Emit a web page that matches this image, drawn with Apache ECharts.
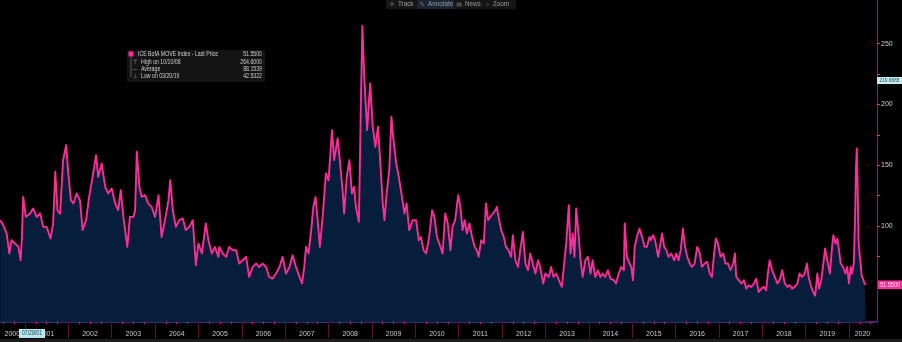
<!DOCTYPE html>
<html>
<head>
<meta charset="utf-8">
<script src="https://cdn.jsdelivr.net/npm/echarts@6/dist/echarts.min.js"></script>
<style>
html,body{margin:0;padding:0;background:#000;}
#c{width:902px;height:342px;}
</style>
</head>
<body>
<div id="c"></div>
<script>
// ---- DATA (decimal-year dates and ICE BofA MOVE Index values) ----
const years = [
 2000.43,2000.50,2000.58,2000.64,2000.69,2000.77,2000.85,2000.90,2000.93,2000.96,
 2001.02,2001.12,2001.19,2001.27,2001.35,2001.42,2001.50,2001.59,2001.65,2001.70,2001.75,2001.81,2001.88,2001.95,
 2002.00,2002.06,2002.12,2002.19,2002.27,2002.33,2002.41,2002.48,2002.56,2002.64,2002.69,2002.77,2002.85,2002.92,
 2003.00,2003.08,2003.15,2003.21,2003.27,2003.36,2003.42,2003.50,2003.54,2003.58,2003.64,2003.69,2003.77,2003.84,2003.92,
 2004.00,2004.08,2004.15,2004.23,2004.31,2004.35,2004.41,2004.48,2004.56,2004.64,2004.71,2004.79,2004.87,2004.94,
 2005.00,2005.08,2005.17,2005.23,2005.31,2005.38,2005.46,
 2005.48,2005.56,2005.64,2005.71,2005.79,2005.87,2005.94,
 2006.02,2006.10,2006.17,2006.25,2006.33,2006.40,2006.48,2006.56,2006.63,2006.71,2006.79,2006.87,2006.94,
 2007.02,2007.10,2007.17,2007.25,2007.33,2007.39,2007.44,2007.48,2007.54,2007.60,2007.65,2007.70,2007.75,2007.80,2007.87,2007.94,
 2008.00,2008.08,2008.13,2008.21,2008.26,2008.33,2008.36,2008.42,2008.48,2008.54,2008.59,2008.63,2008.70,2008.73,2008.75,2008.78,2008.82,2008.89,2008.93,2008.96,
 2009.02,2009.08,2009.14,2009.19,2009.25,2009.29,2009.34,2009.40,2009.45,2009.49,2009.56,2009.62,2009.68,2009.75,2009.80,2009.86,2009.94,
 2010.02,2010.08,2010.13,2010.19,2010.25,2010.32,2010.39,2010.44,
 2010.50,2010.58,2010.63,2010.69,2010.75,2010.81,2010.86,2010.92,2010.99,
 2011.04,2011.09,2011.14,2011.19,2011.25,2011.31,2011.37,2011.42,2011.46,2011.52,2011.58,2011.63,2011.68,2011.73,2011.79,2011.85,2011.88,2011.92,2011.98,
 2012.04,2012.09,2012.15,2012.21,2012.25,2012.31,2012.37,2012.42,2012.48,2012.54,2012.60,2012.65,2012.71,2012.77,2012.83,2012.88,2012.95,
 2013.00,2013.08,2013.13,2013.19,2013.25,2013.31,2013.38,2013.44,2013.48,2013.54,2013.58,2013.63,2013.67,2013.71,2013.77,2013.81,2013.86,2013.92,2013.98,
 2014.04,2014.09,2014.15,2014.21,2014.27,2014.32,2014.38,2014.44,2014.50,2014.58,2014.63,2014.69,2014.75,2014.81,2014.83,2014.88,2014.94,2014.98,
 2015.02,2015.06,2015.11,2015.17,2015.23,2015.29,2015.34,
 2015.40,2015.43,2015.48,2015.53,2015.60,2015.64,2015.69,2015.74,2015.79,2015.84,2015.90,2015.97,
 2016.02,2016.07,2016.12,2016.17,2016.21,2016.27,2016.33,2016.38,2016.44,2016.50,2016.56,2016.61,2016.67,2016.73,2016.79,2016.84,2016.89,2016.93,2016.98,
 2017.04,2017.10,2017.15,2017.21,2017.27,2017.33,2017.37,2017.40,2017.46,2017.52,2017.58,2017.63,2017.69,2017.75,2017.81,2017.86,2017.92,2017.98,
 2018.04,2018.09,2018.13,2018.17,2018.23,2018.29,2018.35,2018.40,2018.46,2018.52,2018.58,2018.63,2018.69,2018.75,2018.81,2018.86,2018.92,2018.98,
 2019.03,2019.07,2019.13,2019.19,2019.22,2019.27,2019.31,2019.36,2019.40,2019.45,2019.50,2019.56,2019.61,2019.64,2019.69,2019.73,2019.77,2019.81,2019.86,2019.92,2019.96,
 2020.00,2020.04,2020.07,2020.11,2020.14,2020.16,2020.18,2020.20,2020.22,2020.25,2020.27,2020.29,2020.32,2020.36,2020.39
];
const values = [
 104.7,100.6,93.7,77.3,88.2,85.5,82.7,71.7,90.9,123.9,
 107.4,110.2,114.3,107.4,110.2,99.2,99.2,89.6,102,144.5,112.9,110,154,166.5,
 143.2,121.2,118.5,126.7,121,96.5,104.7,123.9,140.4,158.2,140.4,151.4,132.1,126.7,
 130.8,118.5,112.9,129.4,107.4,82.7,107.4,107.4,112.9,161,132.1,123.9,125.3,118.5,115.7,
 107.4,125.3,90.9,104.7,121.2,137.6,112.9,99.2,104.7,106.1,96.5,99.2,104.7,67.6,
 85.5,77.3,102,88.2,77.3,82.7,74.5,
 82.7,77.3,74.5,82.7,80,80,69,
 71.7,74.5,58,66.2,69,66.2,69,66.2,58,56.6,60.8,66.2,74.5,
 60.8,66.2,75.9,66.2,58,52.6,66.2,82.7,77.3,96.5,115.7,123.9,104.7,82.7,110.2,143.2,
 137.6,178.8,154.1,172,154.1,126.7,110.2,140.4,154.1,126.7,132.1,115.7,103.3,165.1,209,264.6,225.5,178.8,200.8,217.3,
 181.6,165.1,181.6,154.1,118.5,104.7,126.7,145.9,189.8,173.3,151.4,140.4,126.7,110.2,118.5,96.5,104.7,
 104.7,88.2,90.9,80,77.3,90.9,112.9,107.4,
 90.9,82.7,77.3,110.2,102,80,99.2,104.7,125.3,
 115.7,96.5,104.7,93.7,102,90.9,82.7,80,74.5,88.2,85.5,118.5,104.7,107.4,110.2,112.9,115.7,107.4,96.5,
 90.9,82.7,80,74.5,92.3,71.7,66.2,80,95.1,69,63.5,77.3,69,60.8,71.7,66.2,52.6,
 60.8,58,66.2,58,60.8,55.3,49.8,71.7,85.5,117.1,77.3,93.7,74.5,114.3,90.9,71.7,58,71.7,74.5,
 60.8,71.7,58,63.5,58,60.8,58,63.5,56.6,55.3,52.6,60.8,66.2,63.5,102,74.5,69,66.2,
 55.3,82.7,90.9,97.8,90.9,82.7,82.7,
 90.9,88.2,92.3,88.2,74.5,82.7,93.7,82.7,80,74.5,77.3,71.7,
 77.3,71.7,80,97.8,85.5,74.5,69,66.2,69,82.7,77.3,66.2,69,70.4,60.8,58,77.3,89.6,85.5,
 74.5,77.3,69,69,63.5,69,77.3,58,55.3,52.6,55.3,48.4,51.2,49.8,52.6,56.6,45.6,48.4,
 49.8,47,60.8,71.7,63.5,58,52.6,55.3,63.5,52.6,49.8,51.2,48.4,49.8,52.6,60.8,58,60.8,
 69,58,49.8,44.3,42.5,60.8,48.4,55.3,66.2,81.4,71.7,60.8,82.7,92.3,85.5,89.6,80,69,66.2,60.8,66.2,
 52.6,66.2,60.8,69,104.7,145.9,163.8,132.1,88.2,74.5,69,59.5,58,52.6,51.55
];
// tick labels
const yLabelValues = [100, 150, 200, 250];
const yTickValues = [75, 100, 125, 150, 175, 200, 225, 250];
const yearTicks = [2001,2002,2003,2004,2005,2006,2007,2008,2009,2010,2011,2012,2013,2014,2015,2016,2017,2018,2019,2020];
const yearLabelPos = [2000.71,2001.5,2002.5,2003.5,2004.5,2005.5,2006.5,2007.5,2008.5,2009.5,2010.5,2011.5,2012.5,2013.5,2014.5,2015.5,2016.5,2017.5,2018.5,2019.5,2020.31];
// legend / stats texts
const seriesName = 'ICE BofA MOVE Index - Last Price';
const lastPrice = '51.5500';
const statLabels = ['High on 10/10/08', 'Average', 'Low on 03/20/19'];
const statValues = ['264.6000', '88.1539', '42.5322'];
const refLevel = 219.6665;
const refLevelText = '219.6665';
const cursorDate = '07/28/01';
const toolbarItems = ['Track', 'Annotate', 'News', 'Zoom'];

// ---- CHART ----
const PINK = '#ff2d96';
const FONT = "'Liberation Sans',sans-serif";
const xMin = 2000.425, xMax = 2020.646;
const quarterTicks = [];
for (let y = 2000; y <= 2020; y++) { [0.25, 0.5, 0.75].forEach(q => quarterTicks.push(y + q)); }

const chart = echarts.init(document.getElementById('c'));
const data = years.map((y, i) => [y, values[i]]);

chart.setOption({
  backgroundColor: '#000',
  animation: false,
  grid: { left: 0, right: 25, top: 0, bottom: 20 },
  xAxis: [
    {
      type: 'value', min: xMin, max: xMax, position: 'bottom',
      axisLine: { show: true, onZero: false, lineStyle: { color: '#3b2b72', width: 2 } },
      axisTick: { show: true, customValues: quarterTicks, length: 2, lineStyle: { color: '#d0207a' } },
      axisLabel: { show: false }, splitLine: { show: false }
    },
    {
      type: 'value', min: xMin, max: xMax, position: 'bottom',
      axisLine: { show: false, onZero: false },
      axisTick: { show: true, customValues: yearTicks, length: 16, lineStyle: { color: '#5e0f36', width: 1 } },
      axisLabel: {
        customValues: yearLabelPos, color: '#c8c8c8', fontSize: 7, fontFamily: FONT, margin: 9,
        formatter: v => String(Math.floor(v + 1e-6))
      },
      splitLine: { show: false }
    }
  ],
  yAxis: {
    type: 'value', position: 'right', min: 20.9, max: 285.9,
    axisLine: { show: true, onZero: false, lineStyle: { color: '#8c1a5a', width: 1 } },
    axisTick: { show: true, customValues: yTickValues, length: 3, lineStyle: { color: PINK } },
    axisLabel: { customValues: yLabelValues, color: '#d0d0d0', fontSize: 7, fontFamily: FONT, margin: 4 },
    splitLine: { show: false }
  },
  series: [{
    type: 'line', name: seriesName, data: data, xAxisIndex: 0,
    showSymbol: false, symbol: 'none', silent: true,
    lineStyle: { color: PINK, width: 1.9, join: 'round' },
    areaStyle: { color: '#061d3b', opacity: 1 }
  }]
});

// ---- overlay decorations (legend box, tags, toolbar) ----
const yRef = chart.convertToPixel({ yAxisIndex: 0 }, refLevel);
const yLast = chart.convertToPixel({ yAxisIndex: 0 }, values[values.length - 1]);
const g = [];
const txt = (x, y, s, o, sx) => Object.assign({ type: 'text', x: x, y: y, z: 100, scaleX: sx || 1,
  style: Object.assign({ text: s, fill: '#cfcfcf', font: "6.5px 'Liberation Sans',sans-serif", textVerticalAlign: 'middle' }, o || {}) });
const CX = 0.8; // condensed look of the terminal font
// right-side tags
g.push({ type: 'rect', z: 100, shape: { x: 877, y: yRef - 3.5, width: 25, height: 7 }, style: { fill: '#c6eef0' } });
g.push(txt(889.5, yRef, refLevelText, { fill: '#1d4652', textAlign: 'center', font: "6px 'Liberation Sans',sans-serif" }, CX));
g.push({ type: 'rect', z: 100, shape: { x: 878, y: yLast - 4.3, width: 24, height: 8.6 }, style: { fill: PINK } });
g.push(txt(890, yLast, lastPrice, { fill: '#ffe6f2', textAlign: 'center', font: "7px 'Liberation Sans',sans-serif" }, CX));
// legend box
g.push({ type: 'rect', z: 99, shape: { x: 127, y: 50, width: 138, height: 32 }, style: { fill: '#141414' } });
g.push({ type: 'rect', z: 100, shape: { x: 128.5, y: 51.5, width: 5, height: 5 }, style: { fill: PINK } });
g.push({ type: 'line', z: 100, shape: { x1: 131, y1: 57, x2: 131, y2: 77 }, style: { stroke: '#555', lineWidth: 1 } });
g.push(txt(138, 54.5, seriesName, null, CX));
g.push(txt(262, 54.5, lastPrice, { textAlign: 'right' }, CX));
const icons = ['⊤', '—', '⊥'];
statLabels.forEach((s, i) => {
  const yy = 62 + i * 7.3;
  g.push(txt(135, yy, icons[i], { textAlign: 'center', fill: '#9a9a9a', font: "6px 'DejaVu Sans',sans-serif" }));
  g.push(txt(141, yy, s, null, CX));
  g.push(txt(262, yy, statValues[i], { textAlign: 'right' }, CX));
});
// x cursor date tag
g.push({ type: 'rect', z: 100, shape: { x: 19, y: 329, width: 26, height: 9 }, style: { fill: '#b7e7ee' } });
g.push(txt(32, 333.5, cursorDate, { fill: '#1b3c48', textAlign: 'center', font: "6.5px 'Liberation Sans',sans-serif" }, CX));
// bottom strip
g.push({ type: 'rect', z: 98, shape: { x: 0, y: 339, width: 902, height: 3 }, style: { fill: '#1c1c1c' } });
// toolbar
g.push({ type: 'rect', z: 99, shape: { x: 386, y: 0, width: 130, height: 9 }, style: { fill: '#161616' } });
g.push({ type: 'rect', z: 99, shape: { x: 417, y: 0, width: 37, height: 9 }, style: { fill: '#1b2536' } });
const tbIcons = ['✛', '✎', '▤', '⌕'];
const tbX = [392, 422, 459, 487];
toolbarItems.forEach((s, i) => {
  g.push(txt(tbX[i], 4.5, tbIcons[i], { fill: '#7a7a7a', textAlign: 'center', font: "6px 'DejaVu Sans',sans-serif" }));
  g.push(txt(tbX[i] + 6, 4.5, s, { fill: '#9c9c9c', font: "7px 'Liberation Sans',sans-serif" }, 0.9));
});
chart.setOption({ graphic: g });
</script>
</body>
</html>
